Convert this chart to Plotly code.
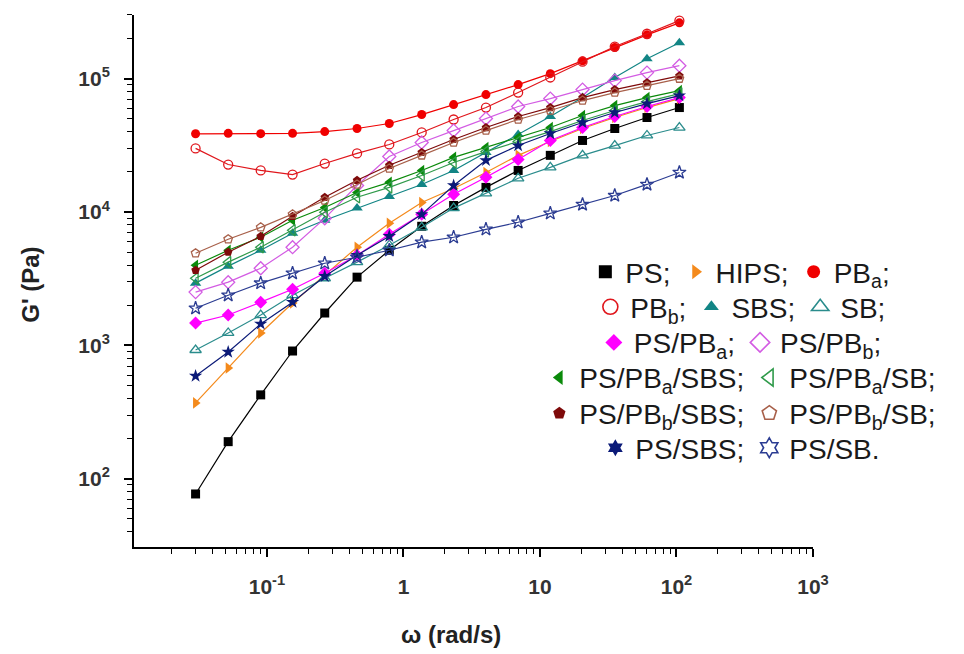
import plotly.graph_objects as go

# Angular frequency sweep (rad/s)
omega = [0.030, 0.052, 0.090, 0.154, 0.265, 0.457, 0.787, 1.36, 2.33, 4.02,
         6.92, 11.9, 20.5, 35.3, 60.8, 105]

# Storage modulus G' (Pa) for each material
g_ps = [77, 190, 426, 908, 1750, 3250, 5170, 7820, 11200, 15300,
        20500, 26600, 34400, 42300, 51100, 60700]
g_hips = [371, 678, 1240, 2080, 3360, 5450, 8230, 11800, 15000, 19800,
          26600, 33800, 42300, 51100, 60700, 70900]
g_pba = [38600, 38900, 38700, 38900, 40100, 42300, 46100, 53800, 63900, 75900,
         90200, 109000, 136000, 171000, 213000, 262000]
g_pbb = [30000, 22700, 20500, 19100, 23100, 27500, 32100, 39500, 49400, 60700,
         78600, 102000, 134000, 174000, 217000, 272000]
g_sbs = [2930, 3930, 5170, 6930, 8670, 10700, 13100, 16100, 20500, 28000,
         38100, 52000, 72100, 102000, 141000, 186000]
g_sb = [924, 1240, 1690, 2380, 3190, 4210, 5640, 7680, 10700, 13800,
        17900, 21600, 26600, 31500, 37500, 43000]
g_ps_pba = [1470, 1690, 2110, 2640, 3480, 4750, 6810, 9610, 13600, 18200,
            24800, 34400, 43000, 52000, 61800, 72100]
g_ps_pbb = [2510, 2980, 3790, 5450, 8970, 15800, 26100, 33200, 40800, 50200,
            61800, 70900, 82800, 96600, 111000, 125000]
g_ps_pba_sbs = [3990, 5170, 6470, 8670, 10800, 14000, 16700, 20500, 25700, 30500,
                36200, 43000, 52900, 62800, 72100, 81300]
g_ps_pba_sb = [3190, 4210, 5450, 7300, 9950, 12900, 15300, 18800, 23500, 28400,
               33800, 40100, 48500, 57700, 67300, 77200]
g_ps_pbb_sbs = [3660, 5000, 6580, 9290, 12900, 17300, 22400, 28000, 35000, 43000,
                52000, 60700, 72100, 82800, 93300, 105000]
g_ps_pbb_sb = [4910, 6250, 7680, 9610, 12200, 16100, 21200, 26600, 33200, 40800,
               49400, 57700, 68500, 78600, 88600, 100000]
g_ps_sbs = [590, 893, 1450, 2110, 3300, 4750, 6580, 9610, 15800, 24400,
            31500, 38800, 46900, 55700, 65000, 74600]
g_ps_sb = [1900, 2380, 2930, 3480, 4130, 4580, 5170, 5940, 6470, 7420,
           8380, 9780, 11400, 13300, 16100, 19800]

x_tick_vals = [0.1, 1, 10, 100, 1000]
x_tick_text = ["10<sup>-1</sup>", "1", "10", "10<sup>2</sup>", "10<sup>3</sup>"]
y_tick_vals = [100, 1000, 10000, 100000]
y_tick_text = ["10<sup>2</sup>", "10<sup>3</sup>", "10<sup>4</sup>", "10<sup>5</sup>"]

# (legend label, values, colour, data symbol, legend symbol, legend row)
series = [
    ("PS;", g_ps, "#000000", "square", "square", 1),
    ("HIPS;", g_hips, "#F48A1C", "triangle-right", "triangle-right", 1),
    ("PB<sub>a</sub>;", g_pba, "#F00000", "circle", "circle", 1),
    ("PB<sub>b</sub>;", g_pbb, "#E0161C", "circle-open", "circle-open", 2),
    ("SBS;", g_sbs, "#128585", "triangle-up", "triangle-up", 2),
    ("SB;", g_sb, "#2A8C8C", "triangle-up-open", "triangle-up-open", 2),
    ("PS/PB<sub>a</sub>;", g_ps_pba, "#FF00FF", "diamond", "diamond", 3),
    ("PS/PB<sub>b</sub>;", g_ps_pbb, "#D35CE3", "diamond-open", "diamond-open", 3),
    ("PS/PB<sub>a</sub>/SBS;", g_ps_pba_sbs, "#0A8A0A", "triangle-left", "triangle-left", 4),
    ("PS/PB<sub>a</sub>/SB;", g_ps_pba_sb, "#2F9A4A", "triangle-left-open", "triangle-left-open", 4),
    ("PS/PB<sub>b</sub>/SBS;", g_ps_pbb_sbs, "#7E0A0A", "pentagon", "pentagon", 5),
    ("PS/PB<sub>b</sub>/SB;", g_ps_pbb_sb, "#A8604A", "pentagon-open", "pentagon-open", 5),
    ("PS/SBS;", g_ps_sbs, "#0B1A78", "star", "hexagram", 6),
    ("PS/SB.", g_ps_sb, "#2B3C92", "star-open", "hexagram-open", 6),
]

fig = go.Figure()

# Data curves
for name, vals, color, sym, _, _ in series:
    open_sym = sym.endswith("-open")
    fig.add_trace(go.Scatter(
        x=omega, y=vals, mode="lines+markers", showlegend=False,
        line=dict(color=color, width=1.2),
        marker=dict(symbol=sym, size=10 if "triangle" in sym or "star" in sym or "diamond" in sym else 9,
                    color=color, line=dict(color=color, width=1.3 if open_sym else 0)),
        hoverinfo="x+y",
    ))

# Marker-only legend entries, one legend per text row
for name, vals, color, _, lsym, row in series:
    open_sym = lsym.endswith("-open")
    fig.add_trace(go.Scatter(
        x=[None], y=[None], mode="markers", name=name,
        legend="legend" if row == 1 else f"legend{row}",
        marker=dict(symbol=lsym, size=15 if open_sym else 13, color=color,
                    line=dict(color=color, width=1.6 if open_sym else 0)),
    ))

legend_font = dict(family="Liberation Sans, Arial, sans-serif", size=28, color="#1a1a1a")
row_y = {1: 0.517, 2: 0.451, 3: 0.384, 4: 0.318, 5: 0.251, 6: 0.186}
legend_layout = {}
for row, yv in row_y.items():
    key = "legend" if row == 1 else f"legend{row}"
    legend_layout[key] = dict(
        orientation="h", x=0.893, xanchor="center", y=yv, yanchor="middle",
        font=legend_font, bgcolor="rgba(0,0,0,0)", borderwidth=0,
        itemwidth=30, tracegroupgap=0,
    )

tick_font = dict(family="Liberation Sans, Arial, sans-serif", size=21, color="#333333", weight="bold")
x_minor = [m * 10.0 ** e for e in range(-2, 3) for m in range(2, 10)]
y_minor = [m * 10.0 ** e for e in range(1, 6) for m in range(2, 10)]

fig.update_layout(
    width=964, height=654,
    margin=dict(l=134, r=151, t=15, b=107, pad=0),
    paper_bgcolor="white", plot_bgcolor="white",
    xaxis=dict(
        type="log", range=[-1.974, 3.0], showgrid=False, zeroline=False,
        showline=True, linecolor="black", linewidth=2,
        tickmode="array", tickvals=x_tick_vals, ticktext=x_tick_text,
        ticks="outside", ticklen=8, tickwidth=1.5, tickcolor="black",
        tickfont=tick_font, ticklabelstandoff=12,
        minor=dict(tickmode="array", tickvals=x_minor, ticks="outside",
                   ticklen=5, tickwidth=1.2, tickcolor="black", showgrid=False),
    ),
    yaxis=dict(
        type="log", range=[1.489, 5.477], showgrid=False, zeroline=False,
        showline=True, linecolor="black", linewidth=2,
        tickmode="array", tickvals=y_tick_vals, ticktext=y_tick_text,
        ticks="outside", ticklen=8, tickwidth=1.5, tickcolor="black",
        tickfont=tick_font, ticklabelstandoff=10,
        minor=dict(tickmode="array", tickvals=y_minor, ticks="outside",
                   ticklen=5, tickwidth=1.2, tickcolor="black", showgrid=False),
    ),
    annotations=[
        dict(text="<b>ω (rad/s)</b>", xref="paper", yref="paper", x=0.467, y=-0.165,
             showarrow=False, xanchor="center", yanchor="middle",
             font=dict(family="Liberation Sans, Arial, sans-serif", size=24, color="#222222")),
        dict(text="<b>G' (Pa)</b>", xref="paper", yref="paper", x=-0.152, y=0.4925,
             showarrow=False, xanchor="center", yanchor="middle", textangle=-90,
             font=dict(family="Liberation Sans, Arial, sans-serif", size=24, color="#222222")),
    ],
    **legend_layout,
)

fig.write_html("out.html")
